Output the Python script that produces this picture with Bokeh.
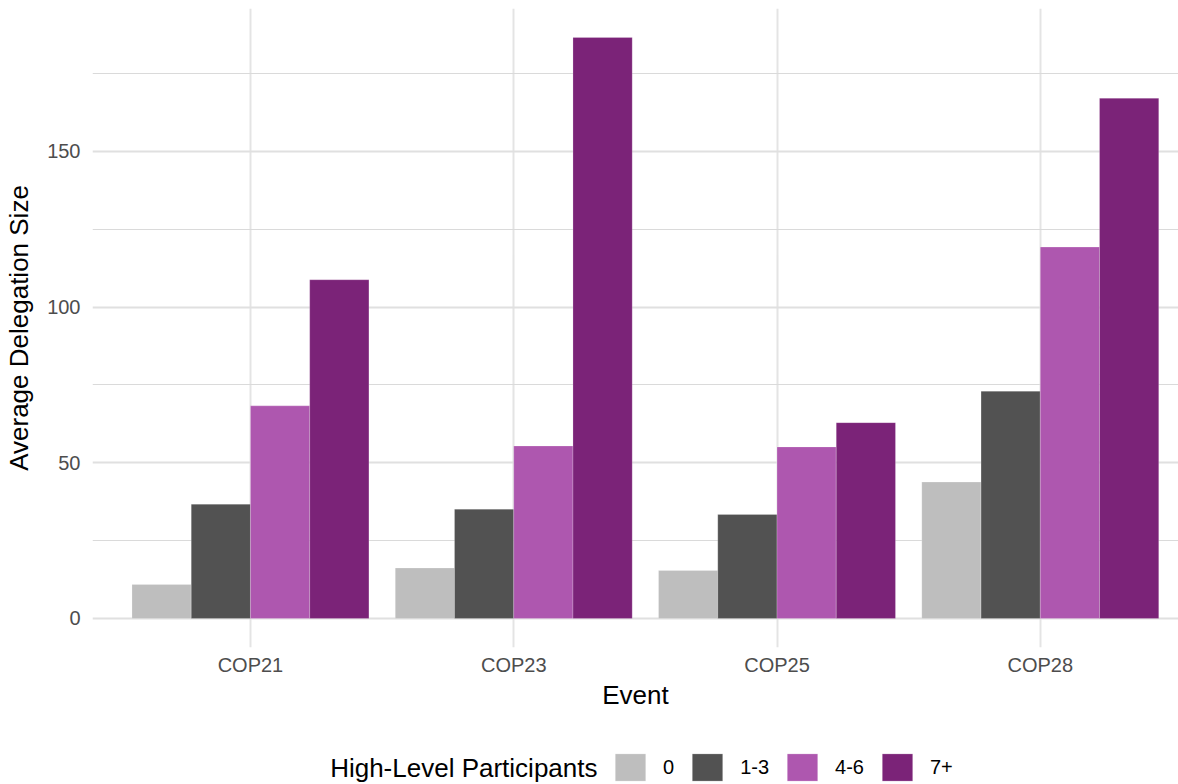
from bokeh.plotting import figure
from bokeh.models import FixedTicker, Legend, LegendItem, Range1d, Label
from bokeh.layouts import column
from bokeh.embed import file_html
from bokeh.resources import INLINE

# ---- data ----
events = ["COP21", "COP23", "COP25", "COP28"]
groups = ["0", "1-3", "4-6", "7+"]
vals_0 = [10.9, 16.2, 15.4, 43.8]
vals_1_3 = [36.7, 35.1, 33.4, 73.0]
vals_4_6 = [68.3, 55.4, 55.1, 119.3]
vals_7p = [108.8, 186.6, 62.9, 167.1]
series = [vals_0, vals_1_3, vals_4_6, vals_7p]
colors = ["#BEBEBE", "#525252", "#AE57AF", "#7B2378"]
y_ticks = [0, 50, 100, 150]
y_minor = [25, 75, 125, 175]
legend_title = "High-Level Participants"

FONT = "Liberation Sans"
bar_w = 0.225
ymax = max(max(s) for s in series)
pad = ymax * 0.05

p = figure(width=1178, height=740, output_backend="svg", toolbar_location=None,
           x_range=Range1d(0.4, 4.525), y_range=Range1d(-pad, ymax + pad),
           min_border_left=92, min_border_right=0, min_border_top=8, min_border_bottom=93)
p.outline_line_color = None
p.background_fill_color = "white"
p.border_fill_color = "white"


def bar_positions(j):
    return [i + 1 + (j - 1.5) * bar_w for i in range(len(events))]


renderers = []
for j, vals in enumerate(series):
    r = p.vbar(x=bar_positions(j), top=vals, bottom=0, width=bar_w, fill_color=colors[j],
               line_color="white", line_alpha=0.35, line_width=0.6)
    renderers.append(r)

# axes
p.xaxis.ticker = FixedTicker(ticks=list(range(1, len(events) + 1)))
p.xaxis.major_label_overrides = {i + 1: e for i, e in enumerate(events)}
p.yaxis.ticker = FixedTicker(ticks=y_ticks, minor_ticks=y_minor)
p.xaxis.axis_label = "Event"
p.yaxis.axis_label = "Average Delegation Size"
for ax in [p.xaxis[0], p.yaxis[0]]:
    ax.axis_line_color = None
    ax.major_tick_line_color = None
    ax.minor_tick_line_color = None
    ax.major_tick_out = 0
    ax.minor_tick_out = 0
    ax.major_label_text_font = FONT
    ax.major_label_text_font_size = "20px"
    ax.major_label_text_color = "#4D4D4D"
    ax.axis_label_text_font = FONT
    ax.axis_label_text_font_size = "26px"
    ax.axis_label_text_font_style = "normal"
    ax.axis_label_text_color = "black"
p.yaxis.major_label_standoff = 12
p.yaxis.axis_label_standoff = 10
p.xaxis.major_label_standoff = 6
p.xaxis.axis_label_standoff = 1

# grids
p.xgrid.grid_line_color = "#E4E4E4"
p.xgrid.grid_line_width = 2
p.ygrid.grid_line_color = "#E0E0E0"
p.ygrid.grid_line_width = 2
p.ygrid.minor_grid_line_color = "#DADADA"
p.ygrid.minor_grid_line_width = 1

# ---- legend strip below the plot (frame is aligned with the main plot's frame) ----
lg = figure(width=1178, height=44, output_backend="svg", toolbar_location=None,
            x_range=Range1d(0, 1), y_range=Range1d(1000, 1001),
            min_border_left=92, min_border_right=0, min_border_top=0, min_border_bottom=0)
lg.axis.visible = False
lg.grid.visible = False
lg.outline_line_color = None
lg.border_fill_color = "white"
lg.background_fill_color = "white"

# same bars, out of this strip's view: used only as legend swatches
swatches = [lg.vbar(x=bar_positions(j), top=vals, bottom=0, width=bar_w, fill_color=colors[j],
                    line_color="white", line_alpha=0.35, line_width=0.6)
            for j, vals in enumerate(series)]
legend = Legend(items=[LegendItem(label=g, renderers=[r]) for g, r in zip(groups, swatches)],
                orientation="horizontal", location=(519, 0))
legend.glyph_width = 38
legend.glyph_height = 34
legend.label_height = 34
legend.label_width = 0
legend.label_standoff = 14
legend.spacing = 14
legend.padding = 0
legend.margin = 0
legend.border_line_color = None
legend.background_fill_alpha = 0
legend.label_text_font = FONT
legend.label_text_font_size = "20px"
legend.label_text_color = "black"
lg.add_layout(legend, "center")

lg.add_layout(Label(x=505, y=17, x_units="screen", y_units="screen", text=legend_title,
                    text_font=FONT, text_font_size="26px", text_color="black",
                    text_align="right", text_baseline="middle"))

layout = column(p, lg, spacing=0)
open("out.html", "w").write(file_html(layout, INLINE))
